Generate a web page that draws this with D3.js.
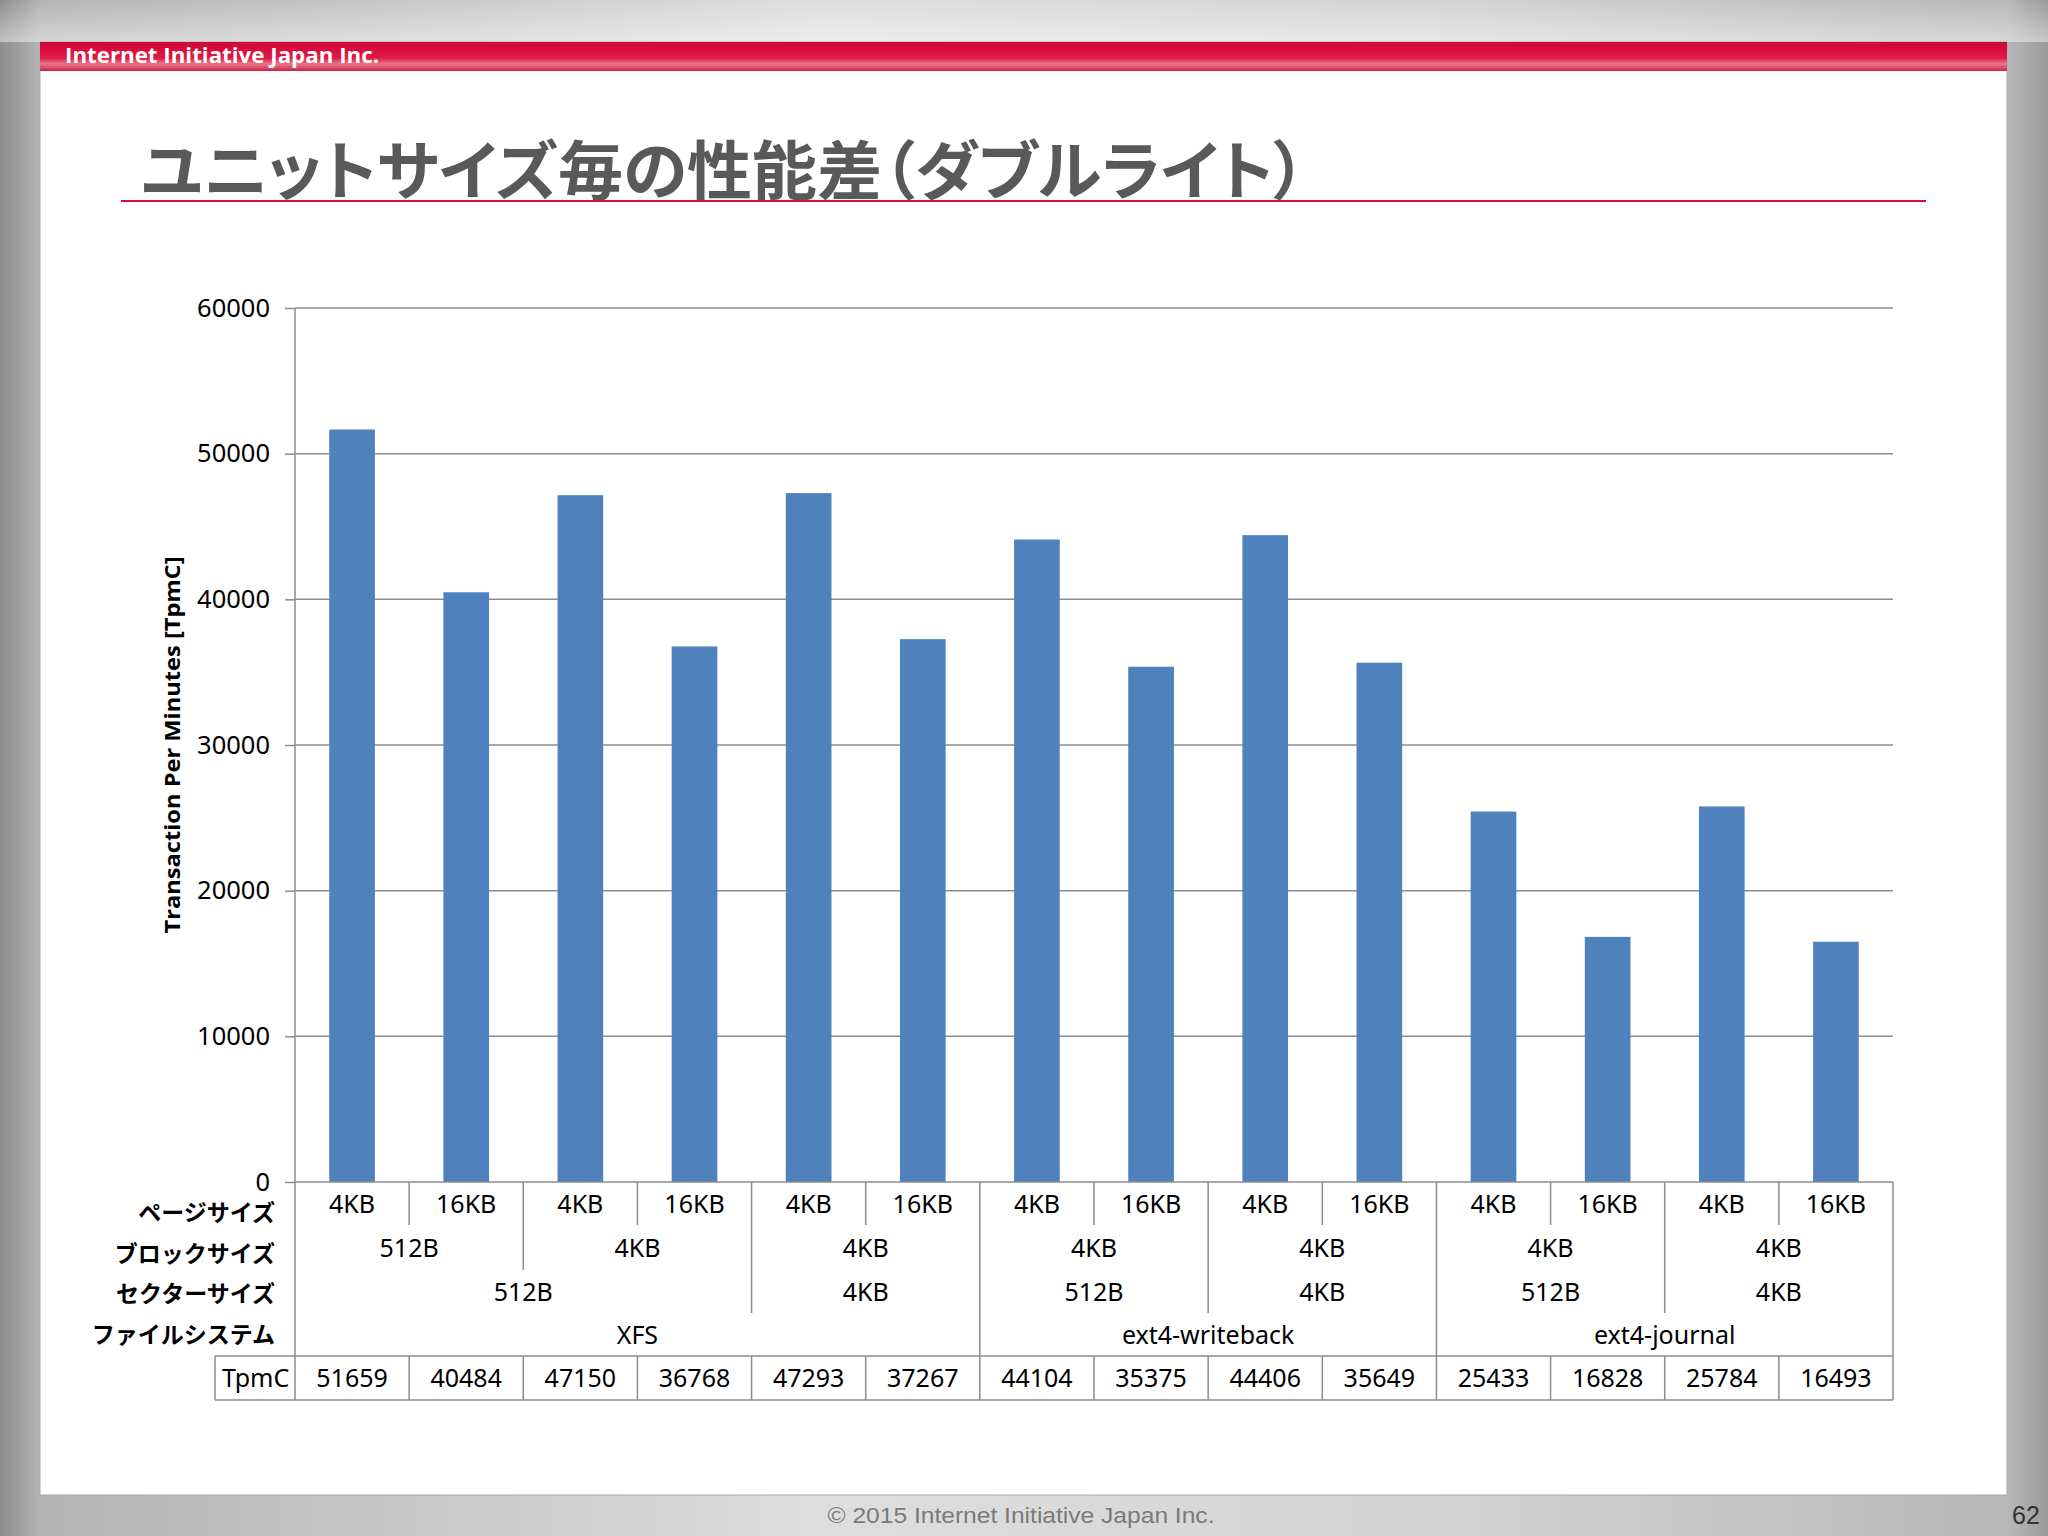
<!DOCTYPE html>
<html>
<head>
<meta charset="utf-8">
<script src="https://cdn.jsdelivr.net/npm/d3@7"></script>
<style>
  body { margin: 0; padding: 0; overflow: hidden; }
  svg { display: block; }
</style>
</head>
<body>
<svg id="slide"></svg>
<script>
// chart data
var tpmc = [51659, 40484, 47150, 36768, 47293, 37267, 44104, 35375, 44406, 35649, 25433, 16828, 25784, 16493];
var pageSizes = ["4KB", "16KB", "4KB", "16KB", "4KB", "16KB", "4KB", "16KB", "4KB", "16KB", "4KB", "16KB", "4KB", "16KB"];
// [label, number of columns]
var blockGroups = [["512B", 2], ["4KB", 2], ["4KB", 2], ["4KB", 2], ["4KB", 2], ["4KB", 2], ["4KB", 2]];
var sectorGroups = [["512B", 4], ["4KB", 2], ["512B", 2], ["4KB", 2], ["512B", 2], ["4KB", 2]];
var fsGroups = [["XFS", 6], ["ext4-writeback", 4], ["ext4-journal", 4]];
var rowLabels = ["ページサイズ", "ブロックサイズ", "セクターサイズ", "ファイルシステム"];
var yTicks = [0, 10000, 20000, 30000, 40000, 50000, 60000];

var W = 2048, H = 1536;
var svg = d3.select("svg#slide").attr("width", W).attr("height", H);
var defs = svg.append("defs");

// background (brushed metal look)
var bg = defs.append("linearGradient").attr("id", "bg").attr("x1", 0).attr("x2", 1).attr("y1", 0).attr("y2", 0);
bg.append("stop").attr("offset", "0%").attr("stop-color", "#8e8e8e");
bg.append("stop").attr("offset", "2%").attr("stop-color", "#b4b4b4");
bg.append("stop").attr("offset", "40%").attr("stop-color", "#dedede");
bg.append("stop").attr("offset", "70%").attr("stop-color", "#d4d4d4");
bg.append("stop").attr("offset", "98%").attr("stop-color", "#b8b8b8");
bg.append("stop").attr("offset", "100%").attr("stop-color", "#9a9a9a");

var topG = defs.append("linearGradient").attr("id", "topg").attr("x1", 0).attr("x2", 0).attr("y1", 0).attr("y2", 1);
topG.append("stop").attr("offset", "0%").attr("stop-color", "#ffffff").attr("stop-opacity", 0.0);
topG.append("stop").attr("offset", "100%").attr("stop-color", "#ffffff").attr("stop-opacity", 0.45);

var red = defs.append("linearGradient").attr("id", "redg").attr("x1", 0).attr("x2", 0).attr("y1", 0).attr("y2", 1);
red.append("stop").attr("offset", "0%").attr("stop-color", "#c8102e");
red.append("stop").attr("offset", "20%").attr("stop-color", "#d80a3c");
red.append("stop").attr("offset", "55%").attr("stop-color", "#dc1a46");
red.append("stop").attr("offset", "75%").attr("stop-color", "#e87586");
red.append("stop").attr("offset", "90%").attr("stop-color", "#d94a62");
red.append("stop").attr("offset", "100%").attr("stop-color", "#c8203c");

svg.append("rect").attr("width", W).attr("height", H).attr("fill", "url(#bg)");
svg.append("rect").attr("width", W).attr("height", 42).attr("fill", "url(#topg)");

// slide panel
svg.append("rect").attr("x", 40).attr("y", 42).attr("width", 1967).attr("height", 1453)
    .attr("fill", "#ffffff").attr("stroke", "#a8a8a8").attr("stroke-width", 1);
svg.append("rect").attr("x", 40).attr("y", 42).attr("width", 1967).attr("height", 29).attr("fill", "url(#redg)");

svg.append("text").attr("x", 65).attr("y", 63)
    .attr("font-family", "'Open Sans', 'Noto Sans', sans-serif").attr("font-weight", "bold")
    .attr("font-size", 21).attr("fill", "#ffffff")
    .attr("textLength", 314).attr("lengthAdjust", "spacingAndGlyphs")
    .text("Internet Initiative Japan Inc.");

// title
svg.append("text").attr("x", 141).attr("y", 194)
    .attr("font-family", "'Noto Sans CJK JP', sans-serif").attr("font-weight", "bold")
    .style("font-feature-settings", "'palt'")
    .attr("font-size", 64).attr("fill", "#595959")
    .attr("textLength", 1165).attr("lengthAdjust", "spacingAndGlyphs")
    .text("ユニットサイズ毎の性能差（ダブルライト）");
svg.append("line").attr("x1", 121).attr("x2", 1926).attr("y1", 201).attr("y2", 201)
    .attr("stroke", "#d0102e").attr("stroke-width", 2);

// footer
svg.append("text").attr("x", 1021).attr("y", 1523).attr("text-anchor", "middle")
    .attr("font-family", "'Liberation Sans', sans-serif").attr("font-size", 22).attr("fill", "#7a7a7a")
    .attr("textLength", 387).attr("lengthAdjust", "spacingAndGlyphs")
    .text("© 2015  Internet Initiative Japan Inc.");
svg.append("text").attr("x", 2026).attr("y", 1524).attr("text-anchor", "middle")
    .attr("font-family", "'Liberation Sans', sans-serif").attr("font-size", 25).attr("fill", "#333333")
    .text("62");

// chart
var plotLeft = 295, plotRight = 1893, plotTop = 308, plotBottom = 1182;
var rowH = [1182, 1225, 1270, 1313, 1356, 1400];
var gridCol = "#8c8c8c";

var x = d3.scaleBand()
    .domain(d3.range(tpmc.length))
    .range([plotLeft, plotRight])
    .paddingInner(0.6)
    .paddingOuter(0.3);

var y = d3.scaleLinear()
    .domain([0, 60000])
    .range([plotBottom, plotTop]);

var g = svg.append("g");

// gridlines
g.selectAll("line.grid").data(yTicks.slice(1)).enter().append("line")
    .attr("class", "grid")
    .attr("x1", plotLeft).attr("x2", plotRight)
    .attr("y1", function(d) { return y(d) }).attr("y2", function(d) { return y(d) })
    .attr("stroke", gridCol).attr("stroke-width", 1.5);

// y axis
var yAxis = g.append("g").attr("transform", "translate(" + plotLeft + ",0)")
    .call(d3.axisLeft(y).tickValues(yTicks).tickFormat(d3.format("d")).tickSize(10).tickPadding(15));
yAxis.select(".domain").remove();
yAxis.selectAll(".tick line").attr("stroke", gridCol).attr("stroke-width", 1.5);
yAxis.selectAll(".tick text")
    .attr("font-family", "'Noto Sans', sans-serif").attr("font-size", 25.5).attr("fill", "#000");

// bars
g.selectAll("rect.bar").data(tpmc).enter().append("rect")
    .attr("class", "bar")
    .attr("x", function(d, i) { return x(i) })
    .attr("width", x.bandwidth())
    .attr("y", function(d) { return y(d) })
    .attr("height", function(d) { return y(0) - y(d) })
    .attr("fill", "#4f81bd");

// y axis title
svg.append("text")
    .attr("transform", "translate(180,745) rotate(-90)")
    .attr("text-anchor", "middle")
    .attr("font-family", "'Open Sans', 'Noto Sans', sans-serif").attr("font-weight", "bold")
    .attr("font-size", 22).attr("fill", "#000")
    .attr("textLength", 377).attr("lengthAdjust", "spacingAndGlyphs")
    .text("Transaction Per Minutes [TpmC]");

// category table
function edge(k) { return x.range()[0] + k * x.step(); }

function boundaries(groups) {
    var out = [], k = 0;
    groups.forEach(function(gr) { k += gr[1]; out.push(k); });
    return out;
}
var levels = [
    d3.range(1, tpmc.length + 1),
    boundaries(blockGroups),
    boundaries(sectorGroups),
    boundaries(fsGroups)
];

// how far down each inner boundary line goes
var seps = d3.range(1, tpmc.length).map(function(k) {
    var depth = 0;
    levels.forEach(function(lv, li) { if (lv.indexOf(k) >= 0) depth = li + 1; });
    return { k: k, depth: depth };
});

var tab = svg.append("g").attr("stroke", gridCol).attr("stroke-width", 1.5);
tab.append("line").attr("x1", plotLeft).attr("x2", plotRight).attr("y1", plotBottom).attr("y2", plotBottom);
tab.append("line").attr("x1", plotLeft).attr("x2", plotLeft).attr("y1", plotTop).attr("y2", rowH[5]);
tab.append("line").attr("x1", plotRight).attr("x2", plotRight).attr("y1", plotBottom).attr("y2", rowH[5]);
tab.selectAll("line.sep").data(seps).enter().append("line")
    .attr("class", "sep")
    .attr("x1", function(d) { return edge(d.k) }).attr("x2", function(d) { return edge(d.k) })
    .attr("y1", plotBottom).attr("y2", function(d) { return rowH[d.depth] });

// TpmC row box
var boxLeft = 215;
tab.append("line").attr("x1", boxLeft).attr("x2", plotRight).attr("y1", rowH[4]).attr("y2", rowH[4]);
tab.append("line").attr("x1", boxLeft).attr("x2", plotRight).attr("y1", rowH[5]).attr("y2", rowH[5]);
tab.append("line").attr("x1", boxLeft).attr("x2", boxLeft).attr("y1", rowH[4]).attr("y2", rowH[5]);
tab.selectAll("line.vsep").data(d3.range(1, tpmc.length)).enter().append("line")
    .attr("class", "vsep")
    .attr("x1", function(k) { return edge(k) }).attr("x2", function(k) { return edge(k) })
    .attr("y1", rowH[4]).attr("y2", rowH[5]);

var cellFont = "'Noto Sans', sans-serif";
function rowText(groups, row) {
    var k = 0;
    var items = groups.map(function(gr) {
        var c = (edge(k) + edge(k + gr[1])) / 2;
        k += gr[1];
        return { label: gr[0], cx: c };
    });
    svg.append("g").selectAll("text").data(items).enter().append("text")
        .attr("x", function(d) { return d.cx })
        .attr("y", (rowH[row] + rowH[row + 1]) / 2 + 9)
        .attr("text-anchor", "middle")
        .attr("font-family", cellFont).attr("font-size", 25).attr("fill", "#000")
        .text(function(d) { return d.label });
}
rowText(pageSizes.map(function(p) { return [p, 1]; }), 0);
rowText(blockGroups, 1);
rowText(sectorGroups, 2);
rowText(fsGroups, 3);
rowText(tpmc.map(function(v) { return [String(v), 1]; }), 4);

// row labels (Excel spaces them a little tighter than the rows)
var labelY = d3.scalePoint().domain(rowLabels).range([1212, 1334]);
svg.append("g").selectAll("text").data(rowLabels).enter().append("text")
    .attr("x", 275)
    .attr("y", function(d) { return labelY(d) + 9 })
    .attr("text-anchor", "end")
    .attr("font-family", "'Noto Sans CJK JP', sans-serif").attr("font-weight", "bold")
    .attr("font-size", 23).attr("fill", "#000")
    .text(function(d) { return d });

svg.append("text").attr("x", 222).attr("y", (rowH[4] + rowH[5]) / 2 + 9)
    .attr("font-family", cellFont).attr("font-size", 25).attr("fill", "#000")
    .text("TpmC");
</script>
</body>
</html>
